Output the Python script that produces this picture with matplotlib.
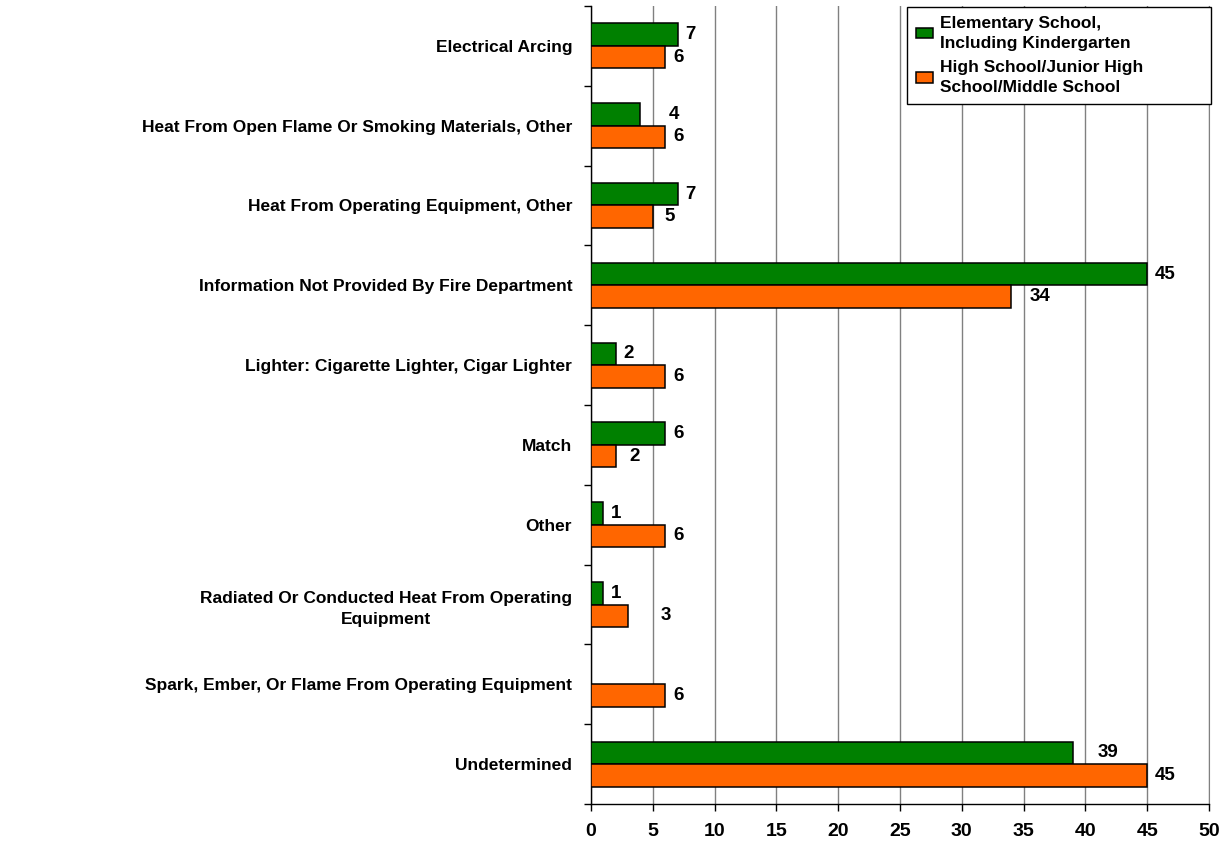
import matplotlib.pyplot as plt
import numpy as np

# Heat source categories, top to bottom
categories = [
    "Electrical Arcing",
    "Heat From Open Flame Or Smoking Materials, Other",
    "Heat From Operating Equipment, Other",
    "Information Not Provided By Fire Department",
    "Lighter: Cigarette Lighter, Cigar Lighter",
    "Match",
    "Other",
    "Radiated Or Conducted Heat From Operating\nEquipment",
    "Spark, Ember, Or Flame From Operating Equipment",
    "Undetermined",
]
elementary = [7, 4, 7, 45, 2, 6, 1, 1, 0, 39]
high_school = [6, 6, 5, 34, 6, 2, 6, 3, 6, 45]
series_names = [
    "Elementary School,\nIncluding Kindergarten",
    "High School/Junior High\nSchool/Middle School",
]
x_ticks = list(range(0, 51, 5))

GREEN = "#008000"
ORANGE = "#FF6600"
FONT = "Liberation Sans"

# extra horizontal push (pixels) for a few value labels that sit further out
label_nudge = {(0, 1): 20, (1, 2): 4, (1, 3): 10, (1, 5): 6, (1, 7): 25, (0, 9): 17}

plt.rcParams["font.family"] = [FONT, "DejaVu Sans"]
plt.rcParams["font.weight"] = "bold"

fig = plt.figure(figsize=(12.28, 8.42), dpi=100)
ax = fig.add_axes([591 / 1228, 38 / 842, 618 / 1228, 798 / 842])

y = np.arange(len(categories))
bar_h = 0.282
offsets = [-bar_h / 2, bar_h / 2]
colors = [GREEN, ORANGE]

ax.set_axisbelow(True)
ax.grid(axis="x", color="#808080", linewidth=1.0)

for s, (vals, color, name) in enumerate(zip([elementary, high_school], colors, series_names)):
    bars = ax.barh(y + offsets[s], vals, height=bar_h, color=color,
                   edgecolor="black", linewidth=1.1, label=name, zorder=3)
    for i, (rect, v) in enumerate(zip(bars, vals)):
        if v == 0:
            rect.set_visible(False)
            continue
        ax.annotate(str(v), (v, y[i] + offsets[s]),
                    xytext=(8 + label_nudge.get((s, i), 0), 0), textcoords="offset pixels",
                    ha="left", va="center", fontsize=13.5, fontweight="bold", zorder=4)

ax.set_xlim(0, 50)
ax.set_ylim(len(categories) - 0.5, -0.5)
ax.set_xticks(x_ticks)
ax.set_xticklabels([str(t) for t in x_ticks], fontsize=14, fontweight="bold")
ax.tick_params(axis="x", length=5, width=1, pad=9, color="black")

ax.set_yticks(y)
ax.set_yticklabels(categories, fontsize=12.5, fontweight="bold")
ax.set_yticks(np.arange(len(categories) + 1) - 0.5, minor=True)
ax.tick_params(axis="y", which="major", length=0, pad=13.5)
ax.tick_params(axis="y", which="minor", length=5, width=1, color="black")
for lbl in ax.get_yticklabels():
    lbl.set_multialignment("center")
    if "\n" in lbl.get_text():
        lbl.set_linespacing(1.5)

ax.spines["top"].set_visible(False)
ax.spines["right"].set_color("#808080")
ax.spines["left"].set_color("black")
ax.spines["bottom"].set_color("black")
ax.spines["left"].set_linewidth(1.0)
ax.spines["bottom"].set_linewidth(1.0)

leg = fig.legend(loc="upper left", bbox_to_anchor=(907 / 1228, 1 - 109 / 842, 304 / 1228, 102 / 842),
                 mode="expand", frameon=True, fancybox=False, edgecolor="black", framealpha=1,
                 prop={"family": FONT, "weight": "bold", "size": 12.5},
                 handlelength=1.0, handleheight=0.55, handletextpad=0.4,
                 borderpad=0.5, labelspacing=0.5, borderaxespad=0)
leg.get_frame().set_linewidth(1.0)
for t in leg.get_texts():
    t.set_linespacing(1.45)

fig.savefig("out.png", dpi=100)
